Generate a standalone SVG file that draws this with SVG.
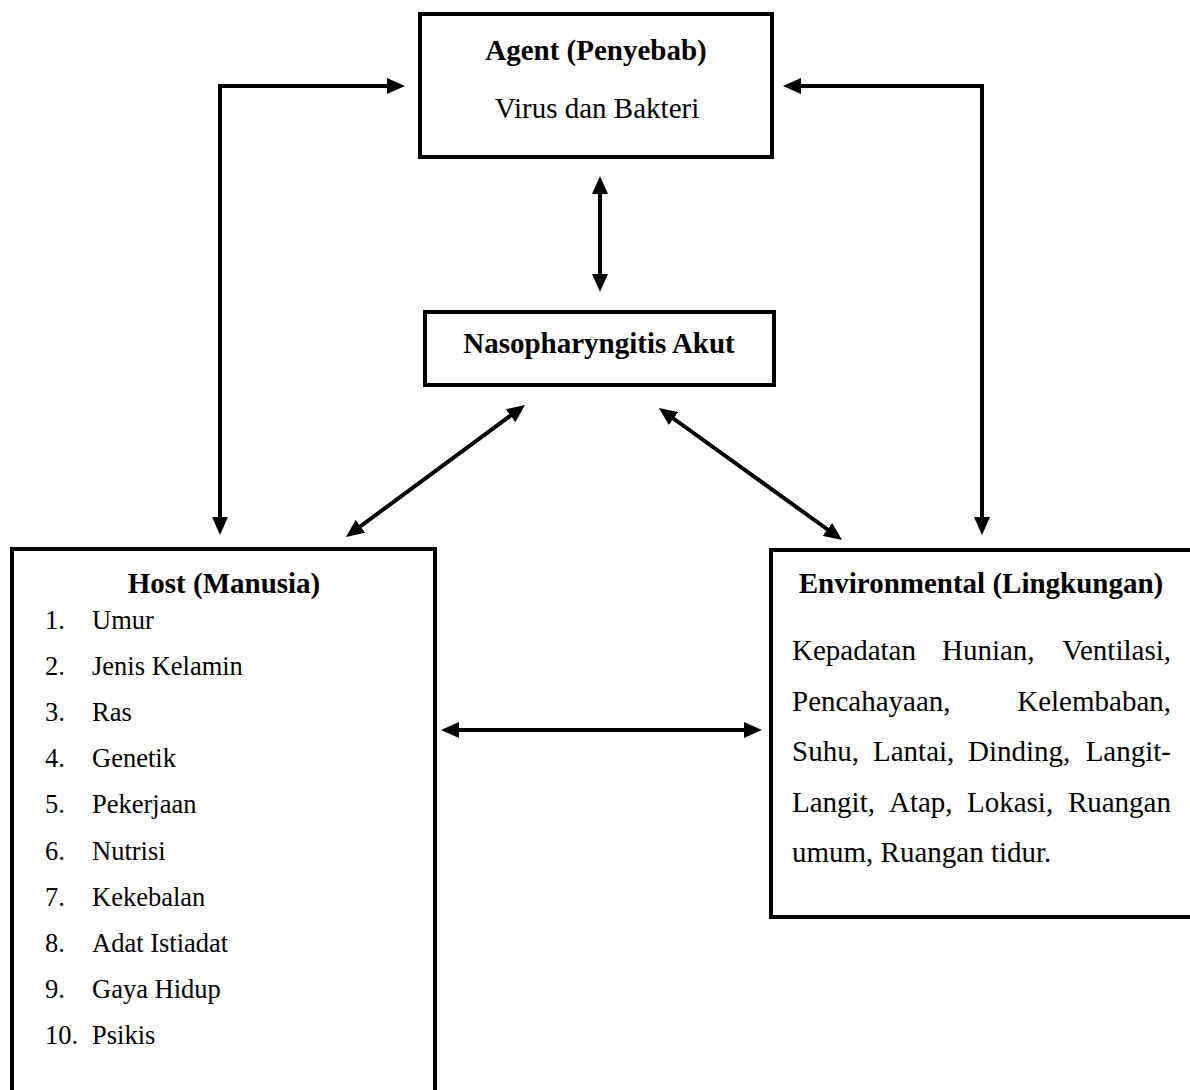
<svg xmlns="http://www.w3.org/2000/svg" width="1190" height="1090" viewBox="0 0 1190 1090">
<defs>
<style>
.box{fill:#fff;stroke:#000;stroke-width:4}
.t{font-family:"Liberation Serif","Times New Roman",serif;fill:#000}
.b{font-weight:bold;font-size:29px}
.n{font-size:29px}
.li{font-size:26.5px}
.c{stroke:#000;stroke-width:4;fill:none;marker-start:url(#ah);marker-end:url(#ah)}
</style>
<marker id="ah" markerUnits="userSpaceOnUse" markerWidth="18" markerHeight="16" refX="13" refY="8" orient="auto-start-reverse" viewBox="0 0 18 16">
<path d="M0,0 L18,8 L0,16 z" fill="#000"/>
</marker>
</defs>
<rect width="1190" height="1090" fill="#fff"/>
<g id="connectors">
<polyline class="c" points="220,530 220,86 400,86"/>
<polyline class="c" points="788,86 982,86 982,530"/>
<line class="c" x1="600" y1="181" x2="600" y2="287"/>
<line class="c" x1="350" y1="534" x2="521" y2="408"/>
<line class="c" x1="663" y1="411" x2="838" y2="537"/>
<line class="c" x1="446" y1="730" x2="757" y2="730"/>
</g>
<g id="agent">
<rect class="box" x="420" y="14" width="352" height="143"/>
<text class="t b" x="596" y="60" text-anchor="middle">Agent (Penyebab)</text>
<text class="t n" x="597" y="118" text-anchor="middle">Virus dan Bakteri</text>
</g>
<g id="nasopharyngitis">
<rect class="box" x="425" y="312" width="349" height="73"/>
<text class="t b" x="599" y="353" text-anchor="middle">Nasopharyngitis Akut</text>
</g>
<g id="host">
<rect class="box" x="12" y="549" width="423" height="600"/>
<text class="t b" x="224" y="593" text-anchor="middle">Host (Manusia)</text>
<g class="t li">
<text x="45" y="629">1.</text><text x="92" y="629">Umur</text>
<text x="45" y="675">2.</text><text x="92" y="675">Jenis Kelamin</text>
<text x="45" y="721">3.</text><text x="92" y="721">Ras</text>
<text x="45" y="767">4.</text><text x="92" y="767">Genetik</text>
<text x="45" y="813">5.</text><text x="92" y="813">Pekerjaan</text>
<text x="45" y="860">6.</text><text x="92" y="860">Nutrisi</text>
<text x="45" y="906">7.</text><text x="92" y="906">Kekebalan</text>
<text x="45" y="952">8.</text><text x="92" y="952">Adat Istiadat</text>
<text x="45" y="998">9.</text><text x="92" y="998">Gaya Hidup</text>
<text x="45" y="1044">10.</text><text x="92" y="1044">Psikis</text>
</g>
</g>
<g id="environmental">
<rect class="box" x="771" y="550" width="500" height="367"/>
<text class="t b" x="981" y="593" text-anchor="middle">Environmental (Lingkungan)</text>
<g class="t n">
<text x="792" y="660">Kepadatan</text><text x="942" y="660">Hunian,</text><text x="1171" y="660" text-anchor="end">Ventilasi,</text>
<text x="792" y="711">Pencahayaan,</text><text x="1171" y="711" text-anchor="end">Kelembaban,</text>
<text x="792" y="761">Suhu,</text><text x="873" y="761">Lantai,</text><text x="968" y="761">Dinding,</text><text x="1171" y="761" text-anchor="end">Langit-</text>
<text x="792" y="812">Langit,</text><text x="889" y="812">Atap,</text><text x="967" y="812">Lokasi,</text><text x="1171" y="812" text-anchor="end">Ruangan</text>
<text x="792" y="862">umum, Ruangan tidur.</text>
</g>
</g>
</svg>
